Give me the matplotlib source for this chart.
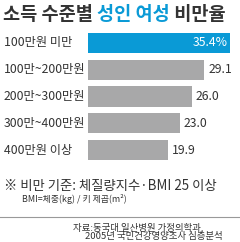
import matplotlib
matplotlib.use("Agg")
import matplotlib.pyplot as plt

plt.rcParams['font.family'] = ['Noto Sans CJK KR', 'DejaVu Sans']

categories = ['100만원 미만', '100만~200만원', '200만~300만원', '300만~400만원', '400만원 이상']
values = [35.4, 29.1, 26.0, 23.0, 19.9]
value_labels = ['35.4%', '29.1', '26.0', '23.0', '19.9']

blue = '#0a9ad6'
gray = '#a8a8a9'
dark = '#333333'

W, H = 240, 242
fig = plt.figure(figsize=(W / 100, H / 100), dpi=100)
fig.patch.set_facecolor('white')

# bar area in pixels: x 88..236, y 29.6..163.4 (from top)
ax = fig.add_axes([88 / W, 1 - 163.4 / H, 148 / W, 133.8 / H])
ypos = list(range(len(categories)))
colors = [blue] + [gray] * (len(categories) - 1)
ax.barh(ypos, values, height=0.75, color=colors)
ax.set_xlim(0, 37)
ax.set_ylim(4.5, -0.5)
ax.axis('off')

for i, (v, lab) in enumerate(zip(values, value_labels)):
    if i == 0:
        ax.text(v - 0.5, i, lab, color='white', ha='right', va='center', fontsize=8.8)
    else:
        ax.text(v + 1.0, i, lab, color=dark, ha='left', va='center', fontsize=8.8)
    ax.text(-84 / 4.0, i, categories[i], color=dark, ha='left', va='center', fontsize=8.8)

# title with coloured part
renderer = fig.canvas.get_renderer()
x = 3 / W
ty = 1 - 14 / H
for part, c in [('소득 수준별 ', dark), ('성인 여성', blue), (' 비만율', dark)]:
    t = fig.text(x, ty, part, color=c, fontsize=13.4, fontweight='bold', va='center', ha='left')
    bb = t.get_window_extent(renderer)
    x += bb.width / W

fig.text(4 / W, 1 - 186 / H, '※ 비만 기준: 체질량지수·BMI 25 이상', color=dark, fontsize=9.6, va='center')
fig.text(22 / W, 1 - 199 / H, 'BMI=체중(kg) / 키 제곱(m²)', color=dark, fontsize=6.4, va='center')
fig.add_artist(plt.Line2D([0, 1], [1 - 217 / H, 1 - 217 / H], color='#999999', lw=0.8))
fig.text(73 / W, 1 - 227 / H, '자료:동국대 일산병원 가정의학과,', color=dark, fontsize=6.8, va='center')
fig.text(85 / W, 1 - 237 / H, '2005년 국민건강영양조사 심층분석', color=dark, fontsize=6.8, va='center')

fig.savefig('out.png', dpi=100)
